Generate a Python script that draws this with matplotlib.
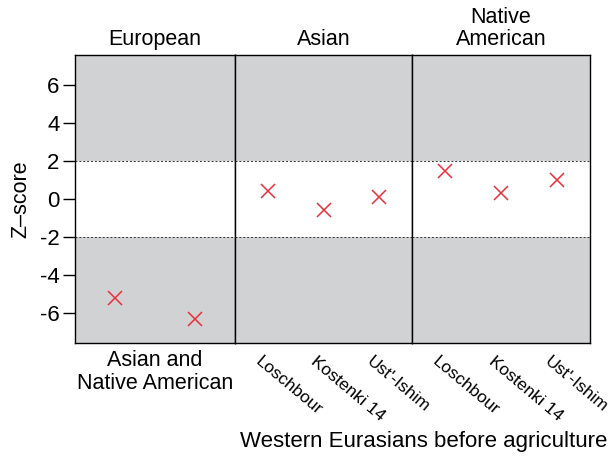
import matplotlib
matplotlib.use("Agg")
import matplotlib.pyplot as plt

plt.rcParams['font.family'] = ['Liberation Sans', 'DejaVu Sans']

# data
panels = ['European', 'Asian', 'Native\nAmerican']
sample_labels = ['Loschbour', 'Kostenki 14', "Ust'-Ishim"]
european_z = [-5.2, -6.35]
asian_z = [0.4, -0.6, 0.1]
native_z = [1.5, 0.3, 1.0]
yticks = [-6, -4, -2, 0, 2, 4, 6]

grey = '#d1d2d4'
red = '#e8303a'

fig = plt.figure(figsize=(6.11, 4.61), dpi=100)

L, B, H = 75 / 611, 1 - 343 / 461, 288 / 461
widths = [160 / 611, 177 / 611, 178 / 611]
series = [european_z, asian_z, native_z]

x0 = L
for i, w in enumerate(widths):
    ax = fig.add_axes([x0, B, w, H])
    x0 += w
    vals = series[i]
    xs = list(range(1, len(vals) + 1))
    if len(vals) == 2:
        ax.set_xlim(0.5, 2.5)
    else:
        ax.set_xlim(0.4, 3.6)
    ax.set_ylim(-7.6, 7.6)
    ax.axhspan(2, 7.6, color=grey, lw=0, zorder=0)
    ax.axhspan(-7.6, -2, color=grey, lw=0, zorder=0)
    ax.axhline(2, color='#333333', lw=0.7, ls=(0, (2, 2)), zorder=1)
    ax.axhline(-2, color='#333333', lw=0.7, ls=(0, (2, 2)), zorder=1)
    ax.plot(xs, vals, ls='none', marker='x', ms=10.5, mew=1.1, color=red, zorder=3)
    for s in ax.spines.values():
        s.set_linewidth(1.0)
        s.set_color('black')
    ax.set_title(panels[i], fontsize=15.5, pad=7, linespacing=1.05)
    ax.set_xticks([])
    if i == 0:
        ax.set_yticks(yticks)
        ax.set_yticklabels([str(t) for t in yticks], fontsize=16)
        ax.tick_params(axis='y', length=9, width=1, pad=2)
        ax.set_ylabel('Z\u2013score', fontsize=15.5, labelpad=6)
        ax.text(0.5, -0.025, 'Asian and\nNative American', transform=ax.transAxes,
                ha='center', va='top', fontsize=15.5, linespacing=1.1)
    else:
        ax.set_yticks([])
        for x, lab in zip(xs, sample_labels):
            ax.text(x - 0.1, -8.15, lab, rotation=-40, rotation_mode='anchor',
                    ha='left', va='top', fontsize=12.5)

fig.text(607 / 611, 1 - 447 / 461, 'Western Eurasians before agriculture',
         ha='right', va='baseline', fontsize=16)

fig.savefig('out.png', dpi=100)
